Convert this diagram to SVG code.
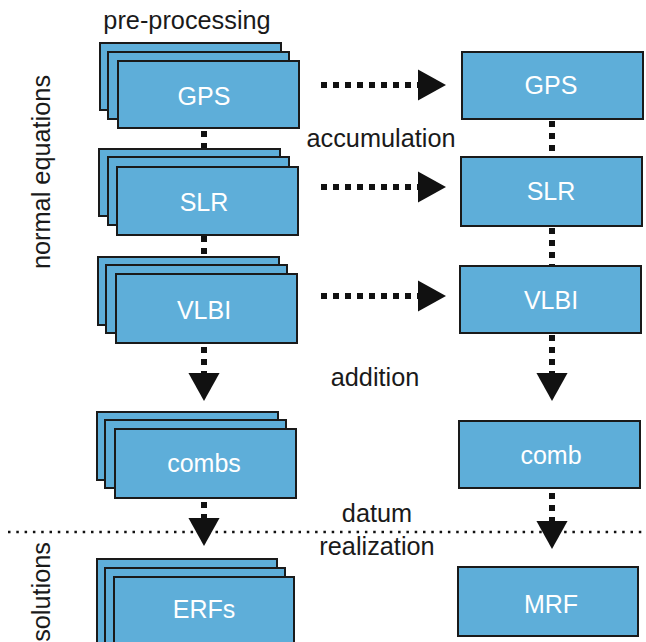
<svg xmlns="http://www.w3.org/2000/svg" width="646" height="642" viewBox="0 0 646 642">
<style>
.box{fill:#5eaed9;stroke:#1a1a1a;stroke-width:2}
.lbl{font-family:"Liberation Sans",Arial,sans-serif;font-size:25px;fill:#ffffff;text-anchor:middle}
.txt{font-family:"Liberation Sans",Arial,sans-serif;font-size:25.3px;fill:#1a1a1a;text-anchor:middle}
.dots{fill:none;stroke:#111;stroke-width:6;stroke-dasharray:6 6}
.sep{fill:none;stroke:#111;stroke-width:2.5;stroke-dasharray:2.5 5.8}
</style>
<defs>
<marker id="ah" markerUnits="userSpaceOnUse" markerWidth="28" markerHeight="32" viewBox="0 -15 27 30" refX="0" refY="0" orient="auto">
<path d="M0,-15 L27,0 L0,15 Z" fill="#111"/>
</marker>
</defs>
<rect width="646" height="642" fill="#ffffff"/>
<g id="connectors">
<path class="sep" d="M8 532 H646"/>
<path class="dots" d="M321 85 H418" marker-end="url(#ah)"/>
<path class="dots" d="M321 187 H418" marker-end="url(#ah)"/>
<path class="dots" d="M321 296 H418" marker-end="url(#ah)"/>
<path class="dots" d="M204 131 V149"/>
<path class="dots" d="M204 236 V258"/>
<path class="dots" d="M204 347 V373" marker-end="url(#ah)"/>
<path class="dots" d="M204 502 V518" marker-end="url(#ah)"/>
<path class="dots" d="M552 121 V158"/>
<path class="dots" d="M552 228 V266"/>
<path class="dots" d="M552 335 V373" marker-end="url(#ah)"/>
<path class="dots" d="M552 493 V521" marker-end="url(#ah)"/>
</g>
<g id="labels">
<text class="txt" x="187" y="29">pre-processing</text>
<text class="txt" x="381" y="147">accumulation</text>
<text class="txt" x="375" y="386">addition</text>
<text class="txt" x="377" y="522">datum</text>
<text class="txt" x="377" y="555">realization</text>
<text class="txt" transform="translate(50,172) rotate(-90)">normal equations</text>
<text class="txt" style="text-anchor:end" transform="translate(50,542) rotate(-90)">solutions</text>
</g>
<g id="gps-stack">
<rect class="box" x="100" y="43" width="181" height="67"/>
<rect class="box" x="108" y="52" width="181" height="67"/>
<rect class="box" x="118" y="61" width="181" height="67"/>
<text class="lbl" x="204" y="105">GPS</text>
</g>
<g id="slr-stack">
<rect class="box" x="99" y="149" width="181" height="67"/>
<rect class="box" x="108" y="157" width="181" height="68"/>
<rect class="box" x="117" y="167" width="181" height="68"/>
<text class="lbl" x="204" y="211">SLR</text>
</g>
<g id="vlbi-stack">
<rect class="box" x="98" y="257" width="181" height="68"/>
<rect class="box" x="106" y="265" width="181" height="68"/>
<rect class="box" x="116" y="274" width="181" height="69"/>
<text class="lbl" x="204" y="319">VLBI</text>
</g>
<g id="combs-stack">
<rect class="box" x="97" y="412" width="181" height="68"/>
<rect class="box" x="105" y="420" width="181" height="68"/>
<rect class="box" x="115" y="429" width="181" height="69"/>
<text class="lbl" x="204" y="472">combs</text>
</g>
<g id="erfs-stack">
<rect class="box" x="97" y="559" width="180" height="90"/>
<rect class="box" x="105" y="568" width="180" height="90"/>
<rect class="box" x="114" y="577" width="180" height="90"/>
<text class="lbl" x="204" y="618">ERFs</text>
</g>
<g id="gps">
<rect class="box" x="462" y="52" width="181" height="67"/>
<text class="lbl" x="551" y="94">GPS</text>
</g>
<g id="slr">
<rect class="box" x="461" y="157" width="181" height="69"/>
<text class="lbl" x="551" y="200">SLR</text>
</g>
<g id="vlbi">
<rect class="box" x="460" y="266" width="181" height="67"/>
<text class="lbl" x="551" y="309">VLBI</text>
</g>
<g id="comb">
<rect class="box" x="459" y="421" width="181" height="67"/>
<text class="lbl" x="551" y="464">comb</text>
</g>
<g id="mrf">
<rect class="box" x="458" y="567" width="180" height="69"/>
<text class="lbl" x="551" y="613">MRF</text>
</g>
</svg>
